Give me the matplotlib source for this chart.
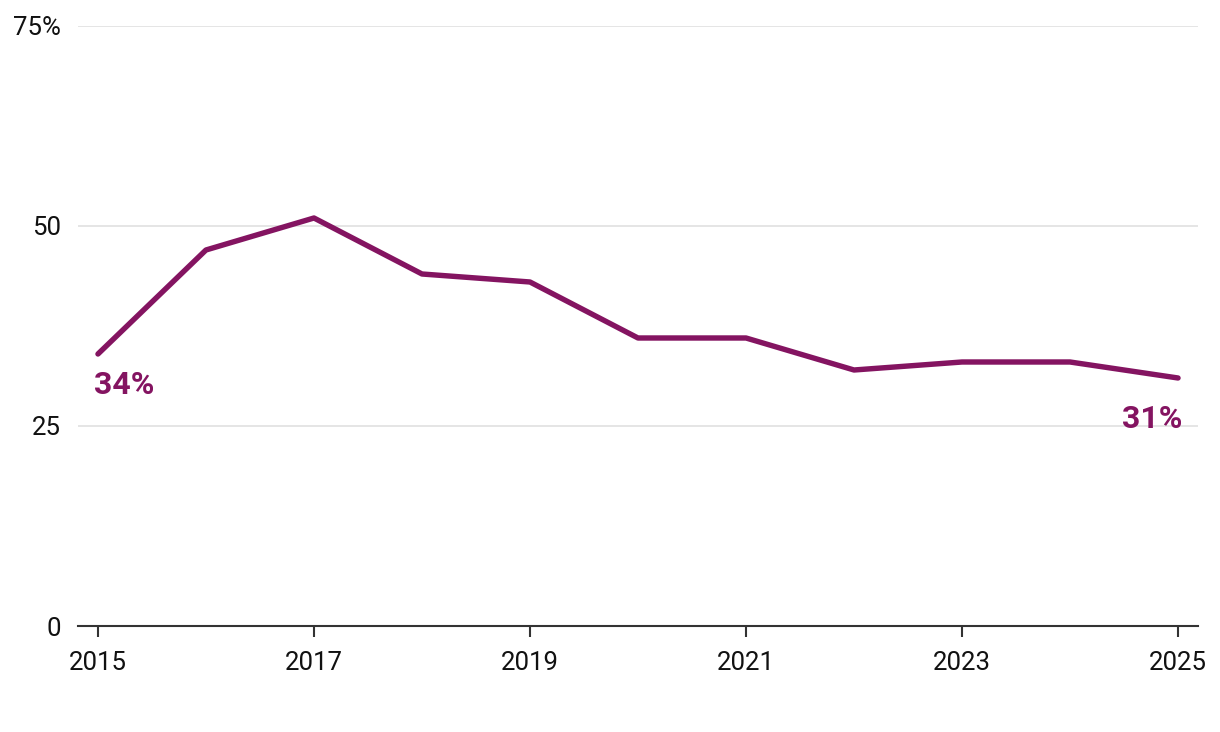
import matplotlib
matplotlib.use("Agg")
import matplotlib.pyplot as plt

plt.rcParams["font.family"] = ["Roboto", "DejaVu Sans"]

years = [2015, 2016, 2017, 2018, 2019, 2020, 2021, 2022, 2023, 2024, 2025]
values = [34, 47, 51, 44, 43, 36, 36, 32, 33, 33, 31]
y_ticks = [0, 25, 50, 75]
y_labels = ["0", "25", "50", "75%"]
x_ticks = [2015, 2017, 2019, 2021, 2023, 2025]

line_color = "#841461"

fig = plt.figure(figsize=(12.2, 7.32), dpi=100)
ax = fig.add_axes([0.0639, 0.1448, 0.9181, 0.8197])

ax.grid(axis="y", color="#e3e3e3", linewidth=1.3, zorder=0)
ax.plot(years, values, color=line_color, linewidth=3.9, solid_capstyle="round",
        solid_joinstyle="round", zorder=3)

ax.set_xlim(2015 - 20 / 108, 2025 + 20 / 108)
ax.set_ylim(0, 75)
ax.set_yticks(y_ticks)
ax.set_yticklabels(y_labels)
ax.set_xticks(x_ticks)
ax.set_xticklabels([str(y) for y in x_ticks])

for side in ["top", "right", "left"]:
    ax.spines[side].set_visible(False)
ax.spines["bottom"].set_color("#333333")
ax.spines["bottom"].set_linewidth(1.5)
ax.spines["bottom"].set_zorder(4)

ax.tick_params(axis="y", length=0, pad=12, labelsize=18.5, labelcolor="#111111")
ax.tick_params(axis="x", length=8, width=1.5, color="#333333", pad=10,
               labelsize=18.5, labelcolor="#111111")

# end labels
ax.annotate(f"{values[0]}%", xy=(years[0], values[0]), xytext=(-4, -40),
            textcoords="offset pixels", ha="left", va="baseline",
            fontsize=23, fontweight="bold", color=line_color)
ax.annotate(f"{values[-1]}%", xy=(years[-1], values[-1]), xytext=(4, -50),
            textcoords="offset pixels", ha="right", va="baseline",
            fontsize=23, fontweight="bold", color=line_color)

fig.savefig("out.png", dpi=100)
